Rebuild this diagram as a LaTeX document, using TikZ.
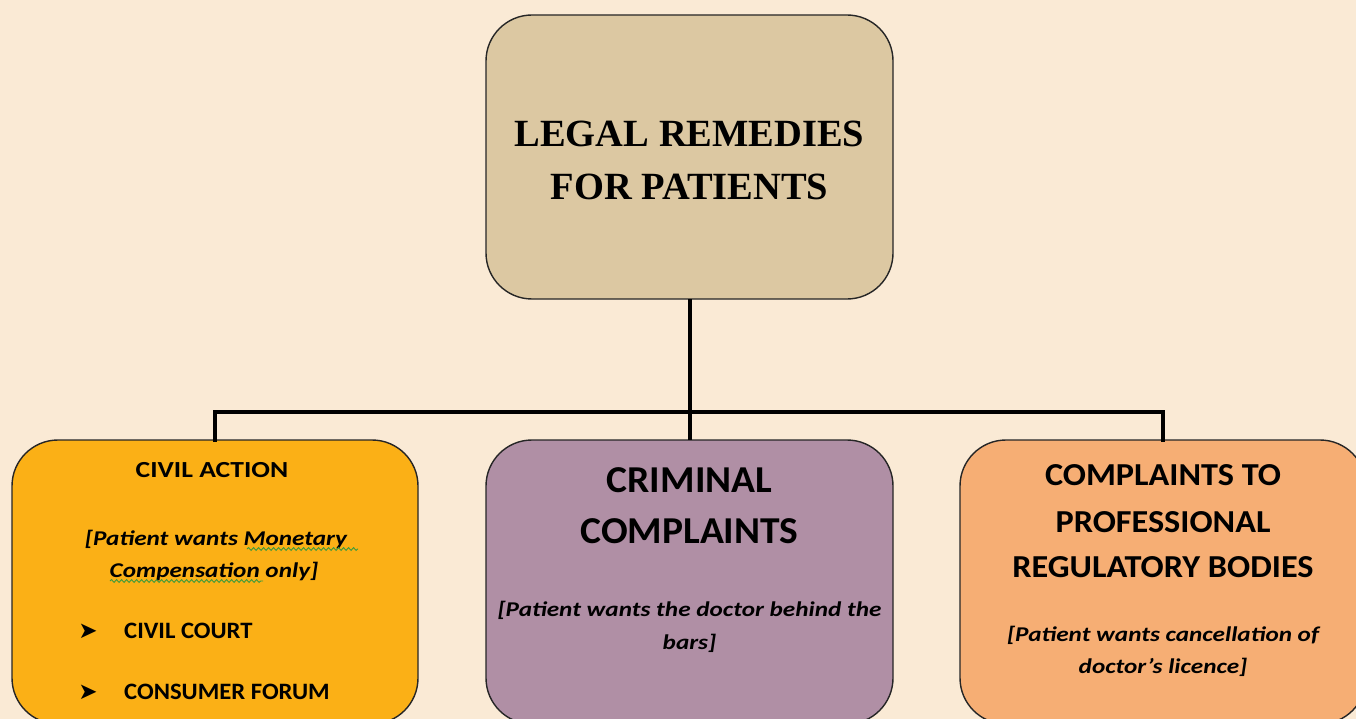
\documentclass[tikz,border=0pt]{standalone}
\usepackage{fontspec}
\setmainfont{Carlito}
\newfontfamily\titlefont{Liberation Serif}
\newfontfamily\symfont{DejaVu Sans}
\newfontfamily\wideA[FakeStretch=1.2]{Carlito}
\newfontfamily\wideB[FakeStretch=1.05]{Carlito}
\newfontfamily\wideC[FakeStretch=1.04]{Carlito}
\newfontfamily\wideD[FakeStretch=1.07]{Carlito}
\usetikzlibrary{decorations.pathmorphing}
\definecolor{bgc}{HTML}{FAEAD5}
\definecolor{topc}{HTML}{DCC8A2}
\definecolor{leftc}{HTML}{FBB016}
\definecolor{midc}{HTML}{B08FA5}
\definecolor{rightc}{HTML}{F6AE74}
\definecolor{squig}{HTML}{3C9A3C}
\tikzset{
  box/.style={draw=black!85, line width=1.4pt, rounded corners=46pt, inner sep=0pt},
  conn/.style={draw=black, line width=4pt},
  tline/.style={anchor=base, inner sep=0pt, font=\titlefont\bfseries\fontsize{38.5}{38.5}\selectfont},
  hline/.style={anchor=base, inner sep=0pt},
  itl/.style={anchor=base, inner sep=0pt, font=\wideA\bfseries\itshape\fontsize{21}{21}\selectfont},
  midhead/.style={anchor=base, inner sep=0pt, font=\wideC\bfseries\fontsize{38}{38}\selectfont},
  righthead/.style={anchor=base, inner sep=0pt, font=\wideD\bfseries\fontsize{32}{32}\selectfont},
  bulletitem/.style={anchor=base west, inner sep=0pt, font=\wideB\bfseries\fontsize{23.5}{23.5}\selectfont},
  bulletmark/.style={anchor=base, inner sep=0pt, font=\symfont\fontsize{23}{23}\selectfont},
  squiggle/.style={draw=squig, line width=0.9pt, decorate, decoration={snake, amplitude=1.4pt, segment length=5pt}}
}
\begin{document}
\begin{tikzpicture}[x=1pt,y=-1pt]
\useasboundingbox (0,0) rectangle (1356,719);
\fill[bgc] (0,0) rectangle (1356,719);
% boxes
\draw[box, fill=topc] (486,15) rectangle (893,299);
\draw[box, fill=leftc] (12,440) rectangle (418,724);
\draw[box, fill=midc] (486,440) rectangle (893,724);
\draw[box, fill=rightc] (960,440) rectangle (1366,724);
\coordinate (topb) at (689.5,299);
\coordinate (lt) at (215,440);
\coordinate (mt) at (689.5,440);
\coordinate (rt) at (1163,440);
\coordinate (jn) at (689.5,412);
% connectors
\draw[conn] (topb) -- (mt);
\draw[conn, line cap=rect] (lt) |- (jn) -| (rt);
% title
\node[tline] (t1) at (689.5,147) {LEGAL REMEDIES};
\node[tline] (t2) at (689.5,200) {FOR PATIENTS};
% left box
\node[hline, font=\wideA\bfseries\fontsize{23}{23}\selectfont] (l1) at (212,477) {CIVIL ACTION};
\node[itl] (l2) at (216,545) {[Patient wants Monetary };
\node[itl] (l3) at (214,577) {Compensation only]};
\node[bulletmark] (b1) at (88,638) {➤};
\node[bulletitem] (l4) at (124,638) {CIVIL COURT};
\node[bulletmark] (b2) at (88,699) {➤};
\node[bulletitem] (l5) at (124,699) {CONSUMER FORUM};
\draw[squiggle] (247,549) -- (358,549);
\draw[squiggle] (110,581) -- (263,581);
% middle box
\node[midhead] (m1) at (689.5,492) {CRIMINAL};
\node[midhead] (m2) at (689.5,543) {COMPLAINTS};
\node[itl] (m3) at (689.5,616) {[Patient wants the doctor behind the};
\node[itl] (m4) at (689.5,649) {bars]};
% right box
\node[righthead] (r1) at (1163,485) {COMPLAINTS TO};
\node[righthead] (r2) at (1163,532) {PROFESSIONAL};
\node[righthead] (r3) at (1163,577) {REGULATORY BODIES};
\node[itl] (r4) at (1163,641) {[Patient wants cancellation of};
\node[itl] (r5) at (1163,673) {doctor’s licence]};
\end{tikzpicture}
\end{document}
